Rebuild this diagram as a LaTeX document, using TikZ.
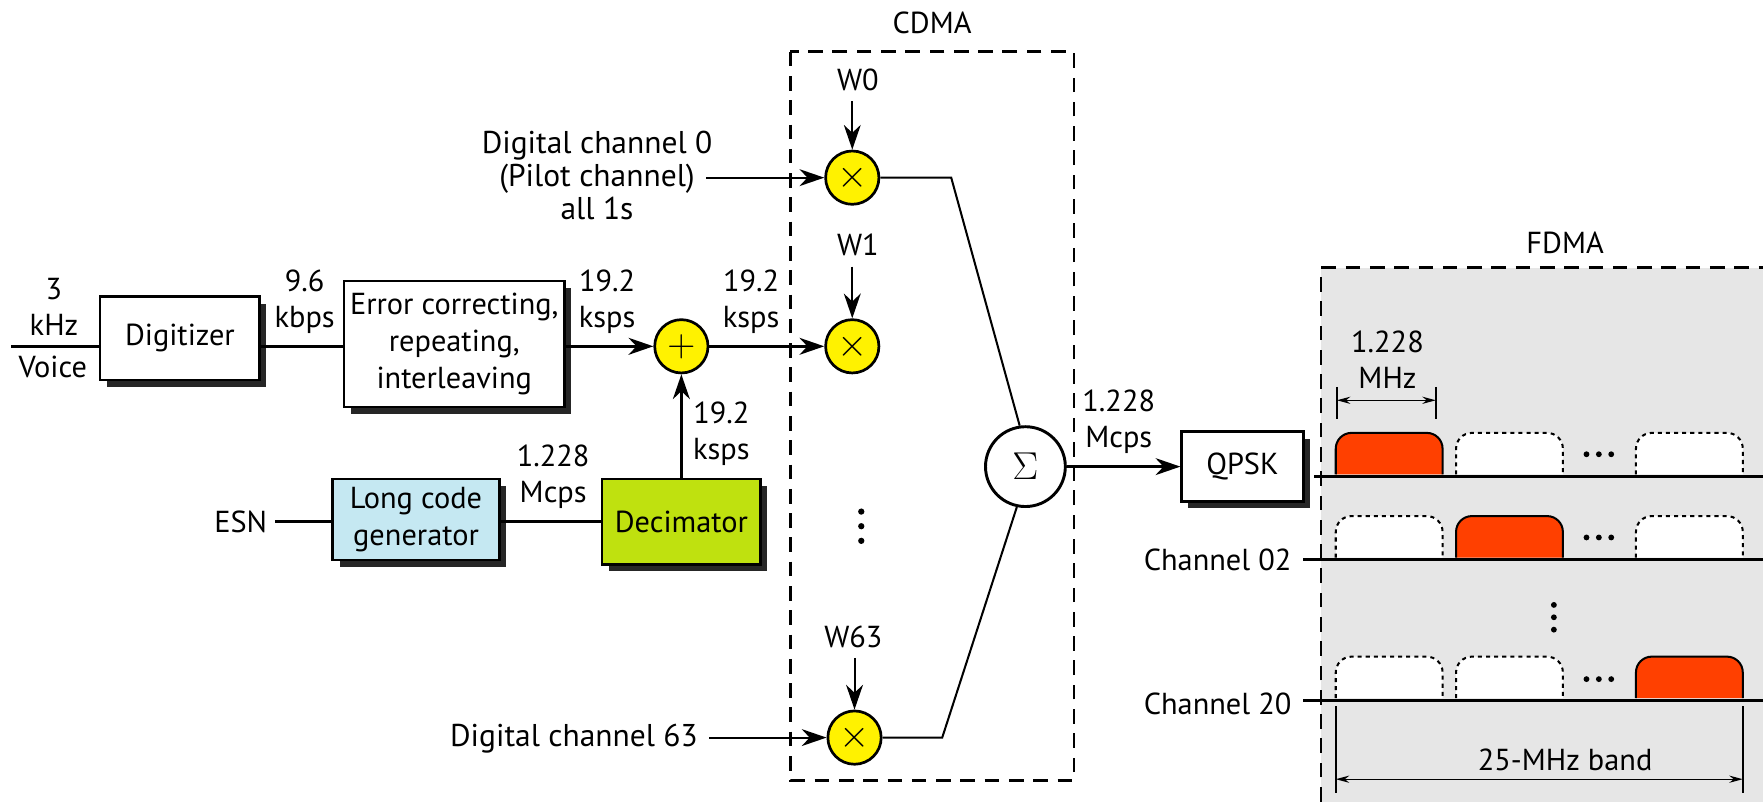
\documentclass[tikz,border=0pt]{standalone}
\usepackage{fontspec}
\setmainfont{PT Sans}
\usetikzlibrary{arrows.meta,shapes.geometric,shadows}
\definecolor{pulsec}{RGB}{255,64,0}
\definecolor{lblue}{RGB}{197,232,242}
\definecolor{lgreen}{RGB}{191,225,15}
\definecolor{fgray}{RGB}{230,230,230}
\newcommand\pulseshape[4]{\draw[#4,rounded corners=7pt] (#1,#3) -- (#1,#3-37) -- (#2,#3-37) -- (#2,#3);}
\newcommand\hdots[2]{\foreach \k in {-11,0,11}{\fill (#1+\k,#2) circle (1.3pt);}}
\begin{document}
\begin{tikzpicture}[x=0.5pt,y=-0.5pt,
  blk/.style={draw, line width=1.2pt, fill=white, align=center, inner sep=0pt,
    font=\fontsize{13.5}{16.5}\selectfont,
    drop shadow={shadow xshift=3pt, shadow yshift=-3pt, fill=black!85, opacity=1}},
  lbl/.style={align=center, inner sep=0pt, font=\fontsize{13.5}{16}\selectfont},
  circ/.style={circle, draw, line width=1.2pt, fill=yellow, minimum size=23.7pt, inner sep=0pt},
  wire/.style={line width=1.5pt},
  thinw/.style={line width=0.9pt},
  arr/.style={-{Stealth[length=11pt,width=7.5pt,inset=3.5pt]}},
  dim/.style={line width=0.75pt},
  dimarr/.style={{Stealth[length=6pt,width=3.2pt]}-{Stealth[length=6pt,width=3.2pt]}, line width=0.6pt},
  orng/.style={fill=pulsec, draw=black, line width=0.9pt},
  empt/.style={fill=white, draw=black, line width=0.9pt, dash pattern=on 1.8pt off 1.8pt},
  dashbox/.style={line width=1.1pt, dash pattern=on 6.5pt off 4.3pt},
]
\useasboundingbox (0,0) rectangle (1568,713);

% FDMA background
\fill[fgray] (1175,238) rectangle (1568,713);
\draw[dashbox] (1175,713) -- (1175,238) -- (1568,238);
\node[lbl] (fdma) at (1392,216) {FDMA};

% CDMA box
\draw[dashbox] (703,46) rectangle (955,694);
\node[lbl] (cdma) at (829,20) {CDMA};

% left chain
\coordinate (vin) at (10,308);
\node[blk, minimum width=71pt, minimum height=37pt] (dig) at (160,301) {Digitizer};
\node[blk, minimum width=98pt, minimum height=56pt] (err) at (404,306) {Error correcting,\\repeating,\\interleaving};
\node[circ] (plus) at (606,308) {\fontsize{18}{18}\selectfont$+$};
\draw[wire] (vin) -- (vin-|dig.west);
\node[lbl, anchor=south] (khz) at (48,299) {3\\kHz};
\node[lbl, anchor=north] (voice) at (47,316) {Voice};
\draw[wire] (dig.east|-plus) -- (plus-|err.west);
\node[lbl, anchor=south] (kbps) at (271,297) {9.6\\kbps};
\draw[wire, arr] (plus-|err.east) -- (plus.west);
\node[lbl, anchor=south] (r1) at (540,297) {19.2\\ksps};

\node[lbl, anchor=east] (esn) at (238,464) {ESN};
\node[blk, fill=lblue, minimum width=74pt, minimum height=36pt] (lcg) at (370,462) {Long code\\generator};
\node[blk, fill=lgreen, minimum width=70.5pt, minimum height=38pt] (dec) at (606,464) {Decimator};
\draw[wire] (esn.east)++(7,0) -- (lcg.west|-dec);
\draw[wire] (lcg.east|-dec) -- (dec.west);
\node[lbl, anchor=south] (mc1) at (492,453) {1.228\\Mcps};
\draw[wire, arr] (dec.north) -- (plus.south);
\node[lbl, anchor=west] (r3) at (616,386) {19.2\\ksps};

% multipliers
\node[circ] (x0) at (758,158) {\fontsize{17}{17}\selectfont$\times$};
\node[circ] (x1) at (758,308) {\fontsize{17}{17}\selectfont$\times$};
\node[circ] (x63) at (760,656) {\fontsize{17}{17}\selectfont$\times$};
\draw[wire, line width=1.3pt, arr] (plus.east) -- (x1.west);
\node[lbl, anchor=south] (r2) at (668,297) {19.2\\ksps};

\node[lbl] (w0) at (763,71) {W0};
\node[lbl] (w1) at (763,218) {W1};
\node[lbl] (w63) at (759,566) {W63};
\draw[thinw, arr] (x0.north|-w0.south)++(0,9) -- (x0.north);
\draw[thinw, arr] (x1.north|-w1.south)++(0,9) -- (x1.north);
\draw[thinw, arr] (x63.north|-w63.south)++(0,9) -- (x63.north);

\node[lbl, font=\fontsize{14}{14.5}\selectfont] (dc0) at (531,156) {Digital channel 0\\(Pilot channel)\\all 1s};
\coordinate (dc0s) at (628,158);
\draw[thinw, arr] (dc0s) -- (x0.west);
\node[lbl, font=\fontsize{14}{14.5}\selectfont, anchor=east] (dc63) at (621,657) {Digital channel 63};
\draw[thinw, arr] (dc63.east)++(10,-1) -- (x63.west);

\foreach \yy in {455,468,481} \fill (766,\yy) circle (1.4pt);

% sigma
\node[circle, draw, line width=1.3pt, fill=white, minimum size=35.5pt, inner sep=0pt] (sig) at (912,415) {\fontsize{19}{19}\selectfont$\Sigma$};
\coordinate (b0) at (846,158);
\coordinate (b63) at (838,656);
\draw[thinw] (x0.east) -- (b0) -- (sig.98);
\draw[thinw] (x63.east) -- (b63) -- (sig.258);

\node[blk, minimum width=54pt, minimum height=31pt] (qpsk) at (1105,415) {QPSK};
\draw[wire, line width=1.3pt, arr] (sig.east) -- (qpsk.west);
\node[lbl, anchor=south] (mc2) at (995,404) {1.228\\Mcps};

% FDMA rows
\coordinate (r1s) at (1169,424);
\draw[wire, line width=1.3pt] (r1s) -- (1568,424);
\node[lbl, anchor=east] (ch02) at (1149,498) {Channel 02};
\draw[wire, line width=1.3pt] (ch02.east)++(10,0) -- (1568,498);
\node[lbl, anchor=east] (ch20) at (1149,626) {Channel 20};
\draw[wire, line width=1.3pt] (ch20.east)++(10,-3) -- (1568,623);

\pulseshape{1188}{1283}{422}{orng}
\pulseshape{1295}{1390}{422}{empt}
\pulseshape{1455}{1550}{422}{empt}
\hdots{1422}{404}
\pulseshape{1188}{1283}{496}{empt}
\pulseshape{1295}{1390}{496}{orng}
\pulseshape{1455}{1550}{496}{empt}
\hdots{1422}{478}
\pulseshape{1188}{1283}{621}{empt}
\pulseshape{1295}{1390}{621}{empt}
\pulseshape{1455}{1550}{621}{orng}
\hdots{1422}{604}
\foreach \yy in {538,549,560} \fill (1382,\yy) circle (1.3pt);

% dimension 1.228 MHz
\draw[dim] (1189,344) -- (1189,373);
\draw[dim] (1277,344) -- (1277,373);
\draw[dimarr] (1189,356) -- (1277,356);
\node[lbl, anchor=south] (mhz) at (1234,346) {1.228\\MHz};

% 25 MHz band
\draw[dim] (1188,628) -- (1188,705);
\draw[dim] (1550,628) -- (1550,705);
\draw[dimarr] (1188,693) -- (1550,693);
\node[lbl] (band) at (1392,676) {25-MHz band};
\end{tikzpicture}
\end{document}
